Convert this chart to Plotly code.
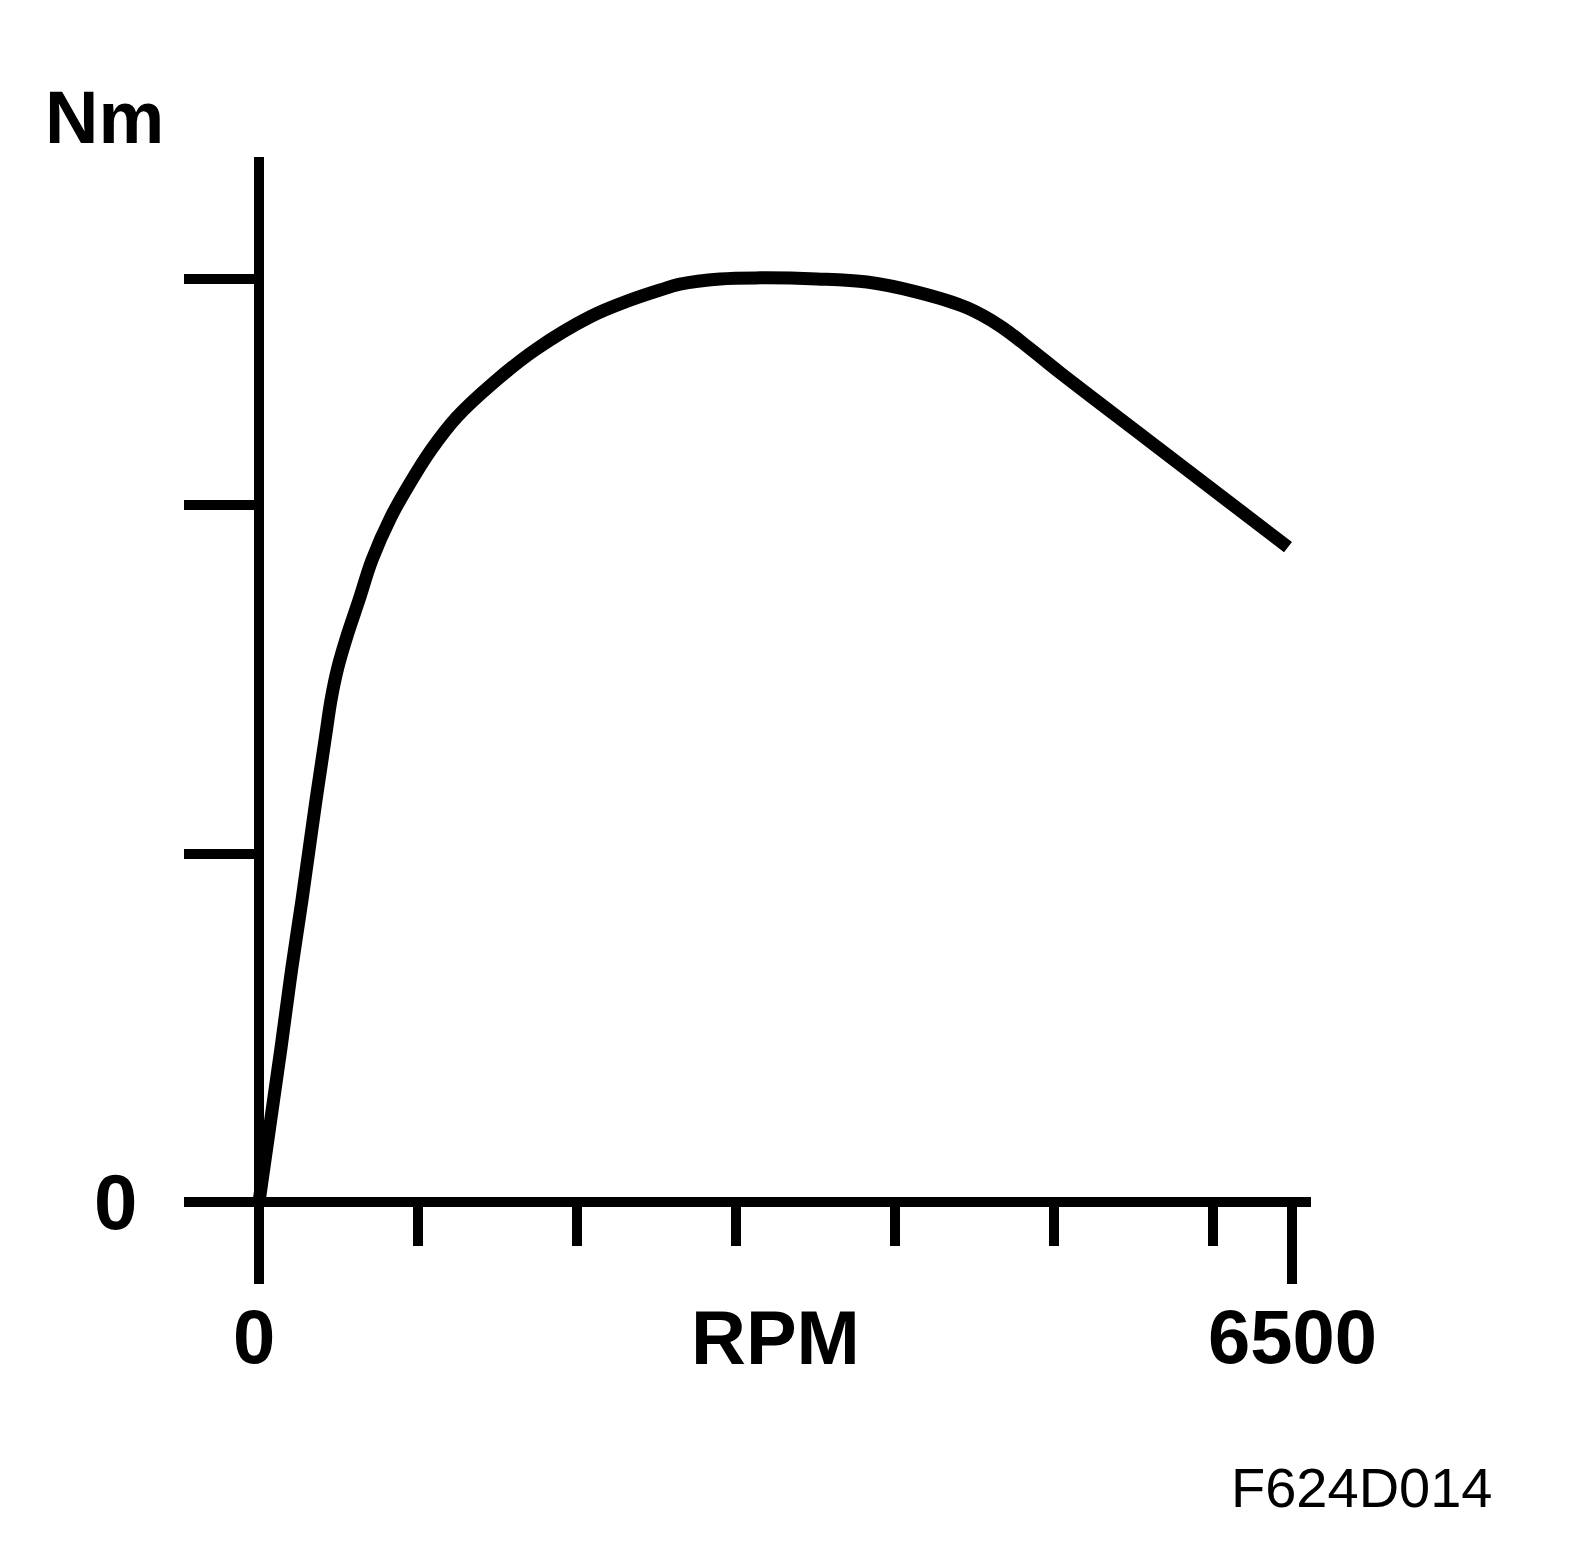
import plotly.graph_objects as go

# ---------------- data ----------------
rpm = [0, 138.4, 207.6, 270.6, 358.7, 421.6, 453.0, 497.1, 560.0, 629.2, 711.0,
       830.6, 950.1, 1082.3, 1245.9, 1472.4, 1736.7, 2082.8, 2334.5, 2523.2,
       2649.1, 2900.8, 3152.5, 3511.1, 3825.7, 4140.4, 4455.0, 4662.7, 4851.4,
       5040.2, 5606.7, 6474.8]
torque = [0, 44.2, 67.5, 86.7, 115.4, 134.6, 144.1, 153.6, 163.4, 172.8, 184.3,
          196.7, 206.4, 215.9, 225.4, 235.1, 244.6, 254.1, 258.9, 261.8,
          263.5, 265.0, 265.3, 265.0, 264.1, 261.2, 256.7, 251.5, 245.0,
          238.1, 218.3, 188.0]

x_major_ticks = [0, 6500]
x_major_labels = ["0", "6500"]
x_minor_ticks = [1000, 2000, 3000, 4000, 5000, 6000]
x_title = "RPM"
x_title_pos = 3250

y_ticks = [0, 100, 200, 265, 300]
y_zero_label = "0"
y_title = "Nm"
figure_code = "F624D014"

# ---------------- layout geometry ----------------
W, H = 1584, 1548
FONT = "Liberation Sans, Arial, Helvetica, sans-serif"
AXW = 10

k_x = 6500 / 1033.0          # RPM per pixel
k_y = 300 / 1045.0           # torque units per pixel
x_range = [-(259 - 184) * k_x, (1311 - 259) * k_x]
y_range = [-(1283 - 1202) * k_y, 300]

fig = go.Figure()
fig.add_trace(go.Scatter(
    x=rpm, y=torque, mode="lines",
    line=dict(color="black", width=13, shape="spline", smoothing=1.0),
    hoverinfo="skip",
))

fig.update_layout(
    width=W, height=H,
    margin=dict(l=0, r=0, t=0, b=0, pad=0),
    paper_bgcolor="white", plot_bgcolor="white",
    showlegend=False,
    xaxis=dict(
        domain=[184 / W, 1311 / W], range=x_range,
        anchor="free", position=(H - 1202) / H,
        showgrid=False, showline=False,
        zeroline=True, zerolinecolor="black", zerolinewidth=AXW,
        tickmode="array", tickvals=x_major_ticks,
        ticks="outside", ticklen=81, tickwidth=AXW, tickcolor="black",
        showticklabels=False,
        minor=dict(tickmode="array", tickvals=x_minor_ticks, ticks="outside",
                   ticklen=43, tickwidth=AXW, tickcolor="black", showgrid=False),
        fixedrange=True,
    ),
    yaxis=dict(
        domain=[(H - 1283) / H, (H - 157) / H], range=y_range,
        showgrid=False, showline=False,
        zeroline=True, zerolinecolor="black", zerolinewidth=AXW,
        tickmode="array", tickvals=y_ticks,
        ticks="inside", ticklen=75, tickwidth=AXW, tickcolor="black",
        showticklabels=False,
        fixedrange=True,
    ),
)

annotations = []
for v, t in zip(x_major_ticks, x_major_labels):
    annotations.append(dict(x=v, xref="x", y=(H - 1336) / H, yref="paper",
                            text=f"<b>{t}</b>", showarrow=False,
                            xanchor="center", yanchor="middle",
                            xshift=-5 if v == 0 else 0,
                            font=dict(family=FONT, size=76, color="black")))
annotations.append(dict(x=x_title_pos, xref="x", y=(H - 1337) / H, yref="paper",
                        text=f"<b>{x_title}</b>", showarrow=False,
                        xanchor="center", yanchor="middle",
                        font=dict(family=FONT, size=76, color="black")))
annotations.append(dict(x=115 / W, xref="paper", y=0, yref="y",
                        text=f"<b>{y_zero_label}</b>", showarrow=False,
                        xanchor="center", yanchor="middle",
                        font=dict(family=FONT, size=78, color="black")))
annotations.append(dict(x=104 / W, xref="paper", y=(H - 117) / H, yref="paper",
                        text=f"<b>{y_title}</b>", showarrow=False,
                        xanchor="center", yanchor="middle",
                        font=dict(family=FONT, size=74, color="black")))
annotations.append(dict(x=1362 / W, xref="paper", y=(H - 1487) / H, yref="paper",
                        text=figure_code, showarrow=False,
                        xanchor="center", yanchor="middle",
                        font=dict(family=FONT, size=56, color="black")))
fig.update_layout(annotations=annotations)

fig.write_html(
    "out.html",
    config={"displayModeBar": False},
    post_script="document.body.style.margin='0';document.body.style.padding='0';",
)
